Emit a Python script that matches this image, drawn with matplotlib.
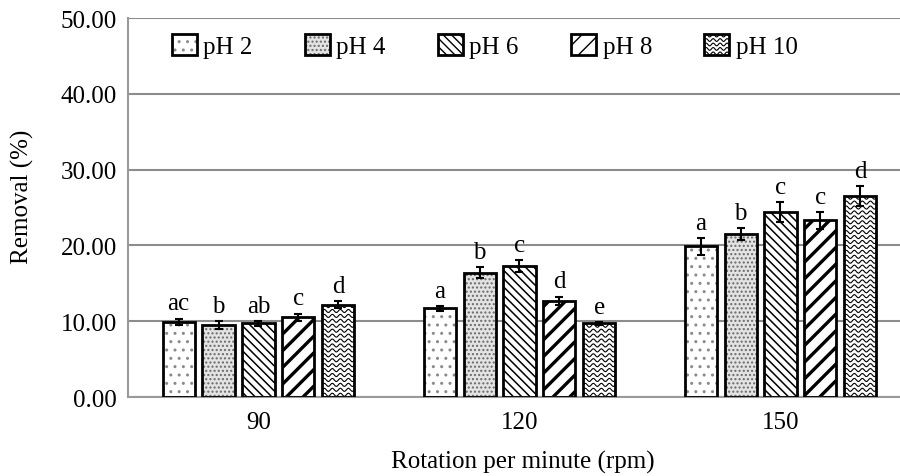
import numpy as np
import matplotlib
matplotlib.use("Agg")
import matplotlib.pyplot as plt
from matplotlib.patches import Rectangle
from matplotlib.lines import Line2D
from matplotlib.legend_handler import HandlerPatch, HandlerTuple

plt.rcParams['font.family'] = ['Liberation Serif', 'DejaVu Serif']

# data
rpm = ['90', '120', '150']
series = ['pH 2', 'pH 4', 'pH 6', 'pH 8', 'pH 10']
removal_ph2 = [9.9, 11.7, 19.9]
removal_ph4 = [9.5, 16.4, 21.5]
removal_ph6 = [9.7, 17.3, 24.4]
removal_ph8 = [10.5, 12.7, 23.3]
removal_ph10 = [12.2, 9.7, 26.5]
err_ph2 = [0.45, 0.3, 1.1]
err_ph4 = [0.5, 0.75, 0.8]
err_ph6 = [0.35, 0.8, 1.3]
err_ph8 = [0.5, 0.55, 1.1]
err_ph10 = [0.5, 0.2, 1.3]
letters_ph2 = ['ac', 'a', 'a']
letters_ph4 = ['b', 'b', 'b']
letters_ph6 = ['ab', 'c', 'c']
letters_ph8 = ['c', 'd', 'c']
letters_ph10 = ['d', 'e', 'd']

valores = [removal_ph2, removal_ph4, removal_ph6, removal_ph8, removal_ph10]
errores = [err_ph2, err_ph4, err_ph6, err_ph8, err_ph10]
letras = [letters_ph2, letters_ph4, letters_ph6, letters_ph8, letters_ph10]

# estilo de cada serie: relleno, trama, color de trama, grosor de trama
estilos = [
    ('white', '..', '#8a8a8a', 1.0),
    ('#e3e3e3', '....', '#6a6a6a', 1.0),
    ('white', '\\\\\\\\', 'black', 1.1),
    ('white', '//', 'black', 2.4),
    ('white', '', 'black', 1.0),
]
TAM = 18


def dibujarOndas(ax, barra):
    # trama ondulada para pH 10
    x0 = barra.get_x()
    w = barra.get_width()
    h = barra.get_height()
    xs = np.linspace(x0, x0 + w, 80)
    for yy in np.arange(0.3, h + 0.7, 0.65):
        ys = yy + 0.2 * np.sin((xs - x0) * 2 * np.pi / (w / 4))
        ln, = ax.plot(xs, ys, color='black', lw=0.8, zorder=2.5)
        ln.set_clip_path(barra)


class HandlerOnda(HandlerPatch):
    def create_artists(self, legend, orig_handle, xdescent, ydescent,
                       width, height, fontsize, trans):
        rect = Rectangle((-xdescent, -ydescent), width, height,
                         facecolor='white', edgecolor='none', transform=trans)
        arts = [rect]
        xs = np.linspace(-xdescent, -xdescent + width, 40)
        for yy in np.arange(-ydescent + 1.5, -ydescent + height, 3.2):
            ys = yy + 1.0 * np.sin((xs + xdescent) * 2 * np.pi / 5.0)
            ln = Line2D(xs, ys, color='black', lw=0.8, transform=trans)
            ln.set_clip_path(rect)
            arts.append(ln)
        return arts


fig = plt.figure(figsize=(9.0, 4.77), dpi=100)
ax = fig.add_axes([0.1422, 0.1656, 0.8578, 0.7945])

x = np.arange(len(rpm))
paso = 0.153
ancho = 0.123
handles = []
handler_map = {}
for i, (vals, errs, lets, est) in enumerate(zip(valores, errores, letras, estilos)):
    fc, hatch, hc, hlw = est
    pos = x + (i - 2) * paso
    with plt.rc_context({'hatch.linewidth': hlw}):
        relleno = ax.bar(pos, vals, ancho, color=fc, hatch=hatch,
                         edgecolor=hc, linewidth=0, zorder=2)
    for p in relleno:
        if hasattr(p, 'set_hatch_linewidth'):
            p.set_hatch_linewidth(hlw)
    borde = ax.bar(pos, vals, ancho, fill=False, edgecolor='black',
                   linewidth=2.0, zorder=3)
    if i == 4:
        for p in relleno:
            dibujarOndas(ax, p)
        handler_map[relleno] = HandlerOnda()
    ax.errorbar(pos, vals, yerr=errs, fmt='none', ecolor='black',
                elinewidth=1.5, capsize=3, capthick=1.5, zorder=4)
    for xp, v, e, l in zip(pos, vals, errs, lets):
        ax.annotate(l, (xp, v + e), xytext=(0, 3), textcoords='offset points',
                    ha='center', va='bottom', fontsize=TAM)
    handles.append((relleno, borde))

handler_map[tuple] = HandlerTuple(ndivide=1, pad=0)

ax.set_ylim(0, 50)
ax.set_xlim(-0.5, -0.5 + 772 / 261)
ax.set_yticks(np.arange(0, 51, 10))
ax.set_yticklabels(['%.2f' % t for t in np.arange(0, 51, 10)])
ax.set_xticks(x)
ax.set_xticklabels(rpm)
ax.tick_params(axis='both', length=0, labelsize=TAM)
ax.tick_params(axis='y', pad=8)
ax.tick_params(axis='x', pad=10)
ax.grid(axis='y', color='#8c8c8c', linewidth=1.5)
ax.set_axisbelow(True)
for lado in ['top', 'right']:
    ax.spines[lado].set_visible(False)
for lado in ['left', 'bottom']:
    ax.spines[lado].set_color('#9a9a9a')
    ax.spines[lado].set_linewidth(1.5)

ax.set_ylabel('Removal (%)', fontsize=TAM)
ax.yaxis.set_label_coords(-0.122, 0.53)
ax.set_xlabel('Rotation per minute (rpm)', fontsize=TAM)
ax.xaxis.set_label_coords(0.512, -0.14)

leg = ax.legend(handles, series, handler_map=handler_map, ncol=5,
                loc='center left', bbox_to_anchor=(0.057, 0.926),
                frameon=False, fontsize=TAM, handlelength=1.0,
                handleheight=0.95, handletextpad=0.25, columnspacing=2.1,
                borderpad=0, borderaxespad=0)

fig.savefig('out.png', dpi=100)
